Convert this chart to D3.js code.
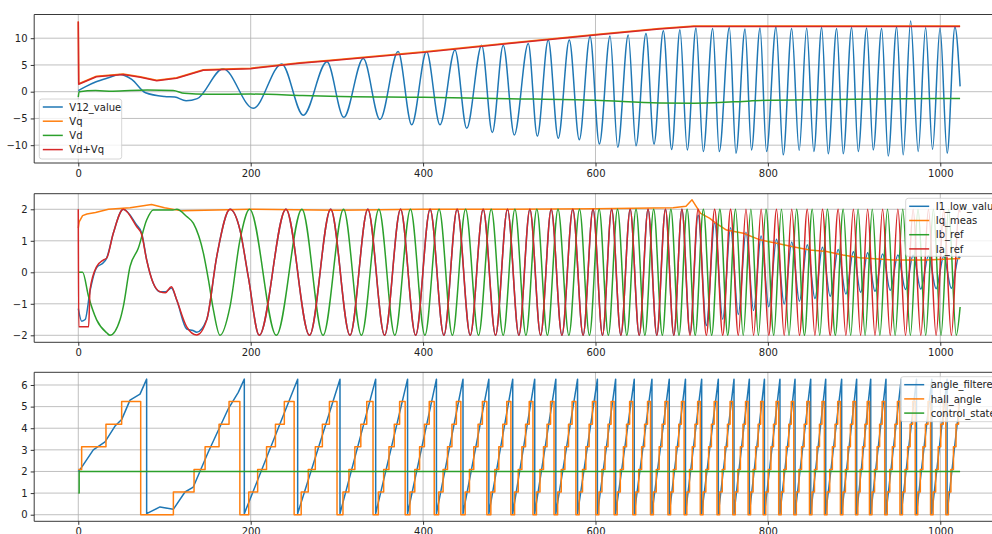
<!DOCTYPE html>
<html>
<head>
<meta charset="utf-8">
<title>motor log</title>
<script src="https://cdn.jsdelivr.net/npm/d3@7"></script>
<style>
  body { margin: 0; background: #fff; }
  svg { display: block; font-family: "DejaVu Sans", sans-serif; }
</style>
</head>
<body>
<svg id="chart" width="992" height="534"></svg>
<script>
// ---- data (x = sample index) ----
var tEnd = 1023;
var xTicks = [0, 200, 400, 600, 800, 1000];

// panel 1
var v12Early = [[0,0.2],[8,0.9],[20,1.8],[35,2.6],[48,3.2],[62,2.3],[78,-0.2],[100,-0.9],[112,-1.0],[125,-1.7],[138,-1.3],[168,4.3],[203,-3.1],[236,5.2],[261,-4.4],[288.5,5.6]];
var v12Mid = [[308,-4.8],[330.6,6.2],[350,-5.2],[371,7.5],[386.8,-6.2],[404,7.5],[419.6,-6.2],[437,7.8],[450.6,-6.85],[468,8.7],[480.3,-7.65],[493,8.7],[505.8,-8.1],[522,9.0],[532.5,-8.3],[545.2,9.66],[556.8,-8.7],[569.6,9.66],[581.2,-9.0],[593.7,10.3],[604.5,-9.8],[616.9,10.4],[625.8,-10.4],[638,10.6],[647,-10.1],[658.6,10.9],[667.9,-9.8]];
var v12Late = [[678.7,11.4],[688.4,-10.8],[698,11.6],[706.5,-10.9],[716.6,11.9],[725,-11.2],[736,11.8],[743.6,-11.2],[755.3,12.0],[763,-11.5],[773.5,11.7],[781,-10.9],[790.9,11.9],[798.4,-11.2],[809.4,12.1],[817.8,-11.8],[827.6,11.8],[836.3,-11.0],[845,11.9],[853.3,-11.2],[862.4,12.0],[870,-11.6],[879.8,11.8],[887.4,-11.6],[897.2,12.0],[904.8,-11.2],[914.6,11.9],[922.2,-10.9],[932,11.8],[939.6,-12.0],[949.4,12.1],[957,-11.8],[965.6,13.2],[974.4,-11.2],[983,12.0],[991,-10.8],[999.7,11.9],[1008,-11.5],[1017,12.1],[1023,1.0]];
var vqPts = [[0,13.1],[0.5,1.5],[8,2.0],[21,2.9],[52,3.3],[72,2.8],[91,2.15],[114,2.6],[145,4.1],[180,4.3],[200,4.4],[257,5.4],[292,5.9],[401,7.45],[500,9.1],[600,10.7],[674,11.8],[714,12.3],[800,12.3],[1023,12.3]];
var vdPts = [[0,-1.0],[1,0],[20,0.2],[40,0.1],[80,0.3],[110,0.2],[123,-0.3],[150,-0.5],[200,-0.45],[260,-0.7],[292,-0.85],[401,-1.05],[500,-1.3],[600,-1.6],[674,-2.1],[714,-2.15],[760,-1.9],[800,-1.6],[900,-1.4],[1000,-1.25],[1023,-1.25]];
var vdvqPts = [[0,13.1],[0.5,1.4],[8,1.9],[21,2.8],[52,3.2],[72,2.7],[91,2.05],[114,2.5],[145,4.0],[180,4.2],[200,4.3],[257,5.3],[292,5.8],[401,7.35],[500,9.0],[600,10.6],[674,11.7],[714,12.2],[800,12.2],[1023,12.2]];

// electrical cycle starts (angle_filtered resets)
var resetT = [79.3,192.6,254.5,303.6,345,382,415.5,446.3,476.3,504,529.5,554,579.2,602.2,623.4,645,665.5,685.6,704.4,723.2,742.5,760.7,778.5,796,814,831.5,849.7,867.1,885.6,903,919.3,937,954.7,972.4,990.2,1007.9];
var lastPeriod = 17.7;

// panel 2
var iqPts = [[0,1.4],[1,1.6],[5,1.8],[10,1.85],[20,1.9],[35,2.0],[60,2.05],[85,2.15],[100,2.05],[120,1.95],[200,2.0],[300,1.97],[400,2.0],[500,2.0],[600,2.02],[690,2.05],[705,2.1],[712,2.3],[722,1.87],[732.7,1.71],[740,1.55],[752,1.34],[771.6,1.24],[790.8,1.03],[810,0.92],[829,0.81],[848.5,0.71],[868,0.66],[887,0.55],[906.7,0.46],[945,0.39],[984,0.39],[1023,0.44]];
var iaStart = [[0,2.0],[0.5,-1.73],[12,-1.73],[13.6,-0.56],[21.3,0.18],[29,0.39],[32.9,0.45],[40.6,1.24],[52.2,2.0],[67.7,1.45],[73.5,1.2],[79.3,0.39],[87,-0.35],[94.8,-0.62],[101,-0.65],[108,-0.46],[114.2,-0.88],[125.8,-1.73],[137.4,-1.99],[149,-1.51],[160.6,0.5],[176,2.0],[187.6,1.34],[197.2,-0.14]];
var ibStart = [[0,0],[5,0],[11.9,-0.77],[21.3,-1.51],[32.9,-1.92],[36.8,-2.0],[48.5,-1.5],[52.2,-1.09],[60,0.18],[69.6,0.76],[79.3,1.66],[87,1.98],[110,1.98],[114.2,2.0],[125.8,1.77],[133.6,1.55],[145.2,0.6],[151,-0.24],[156.8,-1.2],[164.4,-2.0],[176,-1.09],[187.6,1.03]];
var i1Start = [[0,-1.15],[4,-1.55],[8,-1.5],[13.6,-0.6],[21.3,0.15],[29,0.3],[32.9,0.45],[40.6,1.24],[52.2,2.0],[67.7,1.5],[73.5,1.25],[79.3,0.4],[87,-0.35],[94.8,-0.62],[101,-0.62],[108,-0.5],[114.2,-0.88],[125.8,-1.8],[133,-1.85],[137.4,-1.9],[149,-1.5],[160.6,0.5],[176,2.0],[187.6,1.34],[197.2,-0.14]];
var iaPhase = [0.28, 0.78];   // trough, peak (fraction of cycle)
var ibPhase = [0.10, 0.60];   // peak, trough
var iaEnd = [1023, 1.9], ibEnd = [1023, -1.1], i1End = [1023, 0.45];
var envT = [0, 705, 735, 770, 800, 850, 900, 950, 1023];
var envA = [2, 2, 1.6, 1.3, 1.1, 0.85, 0.65, 0.55, 0.5];

// panel 3
var angleStart = [[0,2.0],[4,2.2],[17.4,3.0],[31,3.37],[42.6,4.1],[50.3,4.4],[60,5.3],[71.6,5.58],[79.3,6.27],[79.3,0.05],[94.8,0.36],[110.2,0.25],[123.8,1.05],[133.4,1.28],[150.8,2.9],[174,4.9],[185.6,5.66],[192.6,6.27]];
var angleTop = 6.27, angleLow = 0.05, angleEnd = [1023, 5.4];
var hallStart = [[0,2.094],[3.9,3.142],[32.1,4.189],[50.3,5.236],[72.4,0],[110.3,1.047],[134.3,2.094],[147.1,3.142],[163.3,4.189],[174.9,5.236]];
var hallLevels = [0, 1.047, 2.094, 3.142, 4.189, 5.236];
var hallEdge = [-0.5, 0.5, 1.5, 2.5, 3.5, 4.5];  // sector starts, in sixths of a cycle
var controlPts = [[0,1],[1,2],[1023,2]];

// ---- build series ----
function eachCycle(fn) {
  for (var i = 1; i < resetT.length; i++) {
    var r = resetT[i];
    var next = i + 1 < resetT.length ? resetT[i + 1] : r + lastPeriod;
    fn(r, next - r);
  }
}
var v12 = v12Early.concat(v12Mid, v12Late);

var angle = angleStart.slice();
for (var i = 1; i < resetT.length - 1; i++) angle.push([resetT[i], angleLow], [resetT[i + 1], angleTop]);
angle.push([resetT[resetT.length - 1], angleLow], angleEnd);

var hall = hallStart.slice();
eachCycle(function(r, p) {
  hallEdge.forEach(function(e, k) { var t = r + e * p / 6; if (t < tEnd) hall.push([t, hallLevels[k]]); });
});
hall.push([tEnd, hall[hall.length - 1][1]]);

var env = d3.scaleLinear().domain(envT).range(envA).clamp(true);
var ia = iaStart.slice(), ib = ibStart.slice(), i1 = i1Start.slice();
eachCycle(function(r, p) {
  var a0 = r + iaPhase[0] * p, a1 = r + iaPhase[1] * p;
  var b0 = r + ibPhase[0] * p, b1 = r + ibPhase[1] * p;
  if (a0 < tEnd - 0.5) { ia.push([a0, -2]); i1.push([a0, -env(a0)]); }
  if (a1 < tEnd - 0.5) { ia.push([a1, 2]); i1.push([a1, env(a1)]); }
  if (b0 < tEnd - 0.5) ib.push([b0, 2]);
  if (b1 < tEnd - 0.5) ib.push([b1, -2]);
});
ia.push(iaEnd); ib.push(ibEnd); i1.push(i1End);

// ---- layout ----
var svg = d3.select("#chart");
var W = 992;
var x = d3.scaleLinear().domain([-51.15, 1074.15]).range([34.2, 1004.2]);
var C = ["#1f77b4", "#ff7f0e", "#2ca02c", "#d62728"];

var panels = [
  { top: 14.5, bottom: 163, dom: [-13.33, 14.43], ticks: [-10, -5, 0, 5, 10],
    series: [[v12, C[0], d3.curveMonotoneX], [vqPts, C[1], d3.curveLinear], [vdPts, C[2], d3.curveMonotoneX], [vdvqPts, C[3], d3.curveLinear]],
    legend: { x: 39.3, y: 99, w: 82.4, h: 60, names: ["V12_value", "Vq", "Vd", "Vd+Vq"] } },
  { top: 193.7, bottom: 342.3, dom: [-2.222, 2.495], ticks: [-2, -1, 0, 1, 2],
    series: [[i1, C[0], d3.curveMonotoneX], [iqPts, C[1], d3.curveLinear], [ib, C[2], d3.curveMonotoneX], [ia, C[3], d3.curveMonotoneX]],
    legend: { x: 905.7, y: 198.3, w: 100, h: 58, names: ["I1_low_value", "Iq_meas", "Ib_ref", "Ia_ref"] } },
  { top: 372.3, bottom: 521.3, dom: [-0.305, 6.587], ticks: [0, 1, 2, 3, 4, 5, 6],
    series: [[angle, C[0], d3.curveLinear], [hall, C[1], d3.curveStepAfter], [controlPts, C[2], d3.curveStepAfter]],
    legend: { x: 900.7, y: 376.7, w: 110, h: 45, names: ["angle_filtered", "hall_angle", "control_state"] } }
];

var fmt = d3.format("");

panels.forEach(function(pn, pi) {
  var y = d3.scaleLinear().domain(pn.dom).range([pn.bottom, pn.top]);
  var g = svg.append("g");

  g.append("clipPath").attr("id", "clip" + pi)
    .append("rect").attr("x", x.range()[0]).attr("y", pn.top)
    .attr("width", x.range()[1] - x.range()[0]).attr("height", pn.bottom - pn.top);

  // grid
  g.selectAll(".gx").data(xTicks).enter().append("line")
    .attr("x1", function(d) { return x(d); }).attr("x2", function(d) { return x(d); })
    .attr("y1", pn.top).attr("y2", pn.bottom)
    .attr("stroke", "#b0b0b0").attr("stroke-width", 0.8);
  g.selectAll(".gy").data(pn.ticks).enter().append("line")
    .attr("x1", x.range()[0]).attr("x2", W)
    .attr("y1", function(d) { return y(d); }).attr("y2", function(d) { return y(d); })
    .attr("stroke", "#b0b0b0").attr("stroke-width", 0.8);

  // lines
  var plot = g.append("g").attr("clip-path", "url(#clip" + pi + ")");
  pn.series.forEach(function(s) {
    var line = d3.line().x(function(d) { return x(d[0]); }).y(function(d) { return y(d[1]); }).curve(s[2]);
    plot.append("path").attr("d", line(s[0]))
      .attr("fill", "none").attr("stroke", s[1]).attr("stroke-width", 1.5)
      .attr("stroke-linejoin", "round");
  });

  // axes
  var ax = g.append("g").attr("transform", "translate(0," + pn.bottom + ")")
    .call(d3.axisBottom(x).tickValues(xTicks).tickSize(3.5).tickPadding(3.5).tickFormat(fmt));
  var ay = g.append("g").attr("transform", "translate(" + x.range()[0] + ",0)")
    .call(d3.axisLeft(y).tickValues(pn.ticks).tickSize(3.5).tickPadding(3.2).tickFormat(fmt));
  [ax, ay].forEach(function(a) {
    a.select(".domain").remove();
    a.attr("font-family", "DejaVu Sans, sans-serif").attr("font-size", 10);
    a.selectAll("line").attr("stroke", "#000").attr("stroke-width", 0.8);
    a.selectAll("text").attr("fill", "#222");
  });

  // spines (left, top, bottom)
  g.append("path")
    .attr("d", "M" + W + "," + pn.top + "H" + x.range()[0] + "V" + pn.bottom + "H" + W)
    .attr("fill", "none").attr("stroke", "#222").attr("stroke-width", 0.9);

  // legend
  var L = pn.legend;
  var lg = g.append("g");
  lg.append("rect").attr("x", L.x).attr("y", L.y).attr("width", L.w).attr("height", L.h)
    .attr("rx", 2.5).attr("fill", "#fff").attr("fill-opacity", 0.8)
    .attr("stroke", "#cccccc").attr("stroke-width", 0.8);
  L.names.forEach(function(n, k) {
    var cy = L.y + 8 + k * 14.2;
    lg.append("line").attr("x1", L.x + 3.5).attr("x2", L.x + 23.5).attr("y1", cy).attr("y2", cy)
      .attr("stroke", C[k]).attr("stroke-width", 1.5);
    lg.append("text").attr("x", L.x + 30).attr("y", cy).attr("dy", "0.36em")
      .attr("font-size", 10).attr("fill", "#222").text(n);
  });
});
</script>
</body>
</html>
